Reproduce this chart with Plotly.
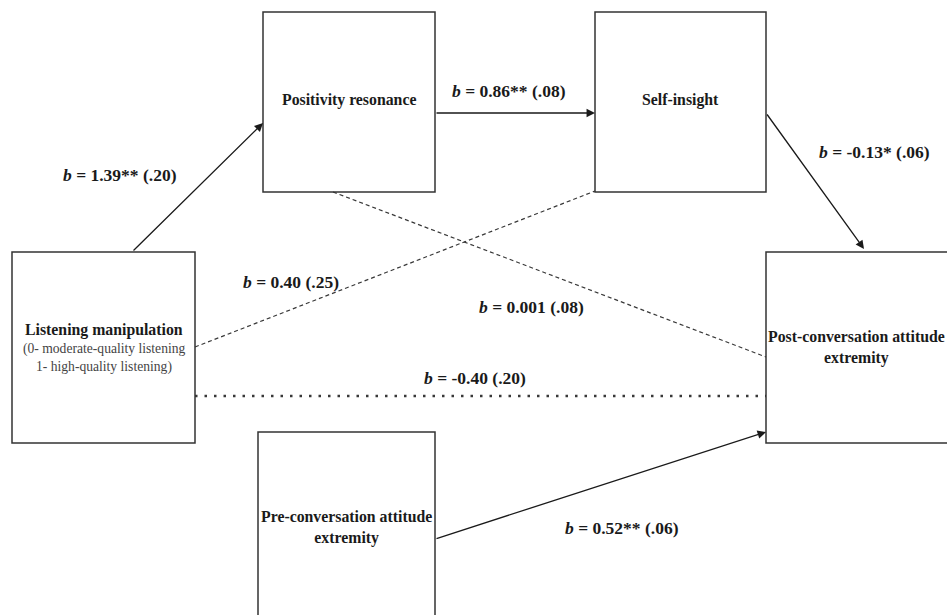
import plotly.graph_objects as go

# ---------------- data ----------------
node_names = ["Listening manipulation", "Positivity resonance", "Self-insight",
              "Post-conversation attitude<br>extremity", "Pre-conversation attitude<br>extremity"]
listening_note = ["(0- moderate-quality listening", "1- high-quality listening)"]

path_from = ["Listening", "Positivity", "Self-insight", "Listening", "Positivity", "Listening", "Pre"]
path_to = ["Positivity", "Self-insight", "Post", "Self-insight", "Post", "Post", "Post"]
path_b = ["1.39", "0.86", "-0.13", "0.40", "0.001", "-0.40", "0.52"]
path_stars = ["**", "**", "*", "", "", "", "**"]
path_se = [".20", ".08", ".06", ".25", ".08", ".20", ".06"]
path_style = ["solid", "solid", "solid", "dash", "dash", "dot", "solid"]

# ---------------- layout geometry ----------------
W, H = 947, 615
boxes = {
    "Listening": (12, 252, 195, 443),
    "Positivity": (263, 12, 435, 192),
    "Self-insight": (595, 12, 766, 192),
    "Post": (766, 252, 947, 443),
    "Pre": (258, 432, 435, 615),
}
path_geom = [
    ((132, 252), (263, 123)),
    ((435, 113), (595, 113)),
    ((766, 113), (864, 249)),
    ((195, 347), (595, 191)),
    ((333, 192), (766, 357)),
    ((195, 396), (766, 396)),
    ((435, 539), (766, 432)),
]
label_pos = [(120, 175), (509, 91), (874, 152), (291, 282), (531, 307), (475, 378), (622, 528)]

FONT = "Liberation Serif, Times New Roman, serif"
INK = "#1a1a1a"

fig = go.Figure()

# boxes
for key, (x0, y0, x1, y1) in boxes.items():
    if key == "Post":
        path = f"M {x1},{y0} L {x0},{y0} L {x0},{y1} L {x1},{y1}"
    elif key == "Pre":
        path = f"M {x0},{y1} L {x0},{y0} L {x1},{y0} L {x1},{y1}"
    else:
        path = f"M {x0},{y0} L {x1},{y0} L {x1},{y1} L {x0},{y1} Z"
    fig.add_shape(type="path", path=path, xref="x", yref="y",
                  line=dict(color="#333333", width=1.5))

# paths
dash_map = {"solid": "solid", "dash": "4px,3px", "dot": "2.5px,7px"}
width_map = {"solid": 1.3, "dash": 1.2, "dot": 2.5}
for (p0, p1), style in zip(path_geom, path_style):
    if style == "solid":
        fig.add_annotation(x=p1[0], y=p1[1], ax=p0[0], ay=p0[1], xref="x", yref="y",
                           axref="x", ayref="y", showarrow=True, text="",
                           arrowhead=2, arrowsize=1.3, arrowwidth=1.3, arrowcolor=INK,
                           standoff=0, startstandoff=0)
    else:
        fig.add_trace(go.Scatter(x=[p0[0], p1[0]], y=[p0[1], p1[1]], mode="lines",
                                 line=dict(color="#383838", width=width_map[style],
                                           dash=dash_map[style]),
                                 hoverinfo="skip", showlegend=False))

# path labels
for (lx, ly), b, st, se in zip(label_pos, path_b, path_stars, path_se):
    fig.add_annotation(x=lx, y=ly, xref="x", yref="y", showarrow=False,
                       text=f"<b><i>b</i> = {b}{st} ({se})</b>",
                       font=dict(family=FONT, size=17.5, color=INK))

# node labels
node_text_pos = {
    "Listening": (104, 330),
    "Positivity": (349, 100),
    "Self-insight": (680, 100),
    "Post": (856, 347),
    "Pre": (346, 527),
}
for name, key in zip(node_names, ["Listening", "Positivity", "Self-insight", "Post", "Pre"]):
    x, y = node_text_pos[key]
    fig.add_annotation(x=x, y=y, xref="x", yref="y", showarrow=False,
                       text=f"<b>{name}</b>",
                       font=dict(family=FONT, size=15.8, color=INK))

for i, line in enumerate(listening_note):
    fig.add_annotation(x=104, y=349 + i * 18, xref="x", yref="y", showarrow=False,
                       text=line, font=dict(family=FONT, size=13.6, color="#444444"))

fig.update_xaxes(range=[0, W], visible=False, fixedrange=True)
fig.update_yaxes(range=[H, 0], visible=False, fixedrange=True)
fig.update_layout(width=W, height=H, margin=dict(l=0, r=0, t=0, b=0),
                  paper_bgcolor="white", plot_bgcolor="white", showlegend=False)

fig.write_html("out.html", config={"displayModeBar": False, "staticPlot": True},
               post_script="document.body.style.margin='0';document.body.style.overflow='hidden';")
